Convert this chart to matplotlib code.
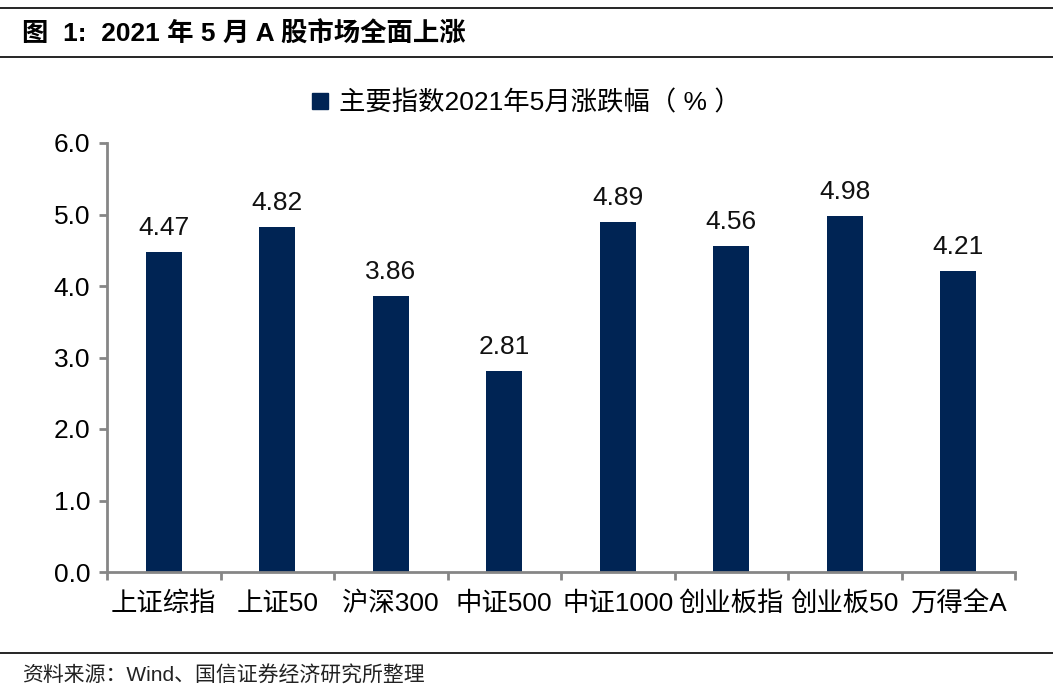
import numpy as np
import matplotlib
matplotlib.use('Agg')
import matplotlib.pyplot as plt
from matplotlib.lines import Line2D

plt.rcParams['font.family'] = ['Liberation Sans', 'Noto Sans CJK SC', 'DejaVu Sans']

categories = ['上证综指', '上证50', '沪深300', '中证500', '中证1000', '创业板指', '创业板50', '万得全A']
values = [4.47, 4.82, 3.86, 2.81, 4.89, 4.56, 4.98, 4.21]
yticks = [0.0, 1.0, 2.0, 3.0, 4.0, 5.0, 6.0]

title = '图  1:  2021 年 5 月 A 股市场全面上涨'
legend_label = '主要指数2021年5月涨跌幅（ % ）'
source = '资料来源：Wind、国信证券经济研究所整理'

bar_color = '#002454'
spine_color = '#868686'

fig = plt.figure(figsize=(10.53, 6.97), dpi=100)
ax = fig.add_axes([107/1053, 1-572/697, (1015-107)/1053, (572-143)/697])

x = np.arange(len(categories))
ax.bar(x, values, width=0.32, color=bar_color)
for xi, v in zip(x, values):
    ax.text(xi, v + 0.17, '%.2f' % v, ha='center', va='bottom', fontsize=19, color='#111111')

ax.set_xlim(-0.5, len(categories) - 0.5)
ax.set_ylim(0, 6)
ax.set_yticks(yticks)
ax.set_yticklabels(['%.1f' % t for t in yticks], fontsize=19)
ax.set_xticks(x)
ax.set_xticklabels(categories, fontsize=19)
ax.tick_params(axis='x', length=0, pad=14)
ax.set_xticks(np.arange(len(categories) + 1) - 0.5, minor=True)
ax.tick_params(axis='x', which='minor', length=6, width=2, color=spine_color, direction='out')
ax.tick_params(axis='y', length=6, width=2, color=spine_color, pad=6)
for s in ['top', 'right']:
    ax.spines[s].set_visible(False)
for s in ['left', 'bottom']:
    ax.spines[s].set_color(spine_color)
    ax.spines[s].set_linewidth(2)

handle = Line2D([], [], marker='s', linestyle='none', color=bar_color, markersize=11)
fig.legend([handle], [legend_label], loc='center', bbox_to_anchor=(524/1053, 1-103/697),
           frameon=False, fontsize=19, handletextpad=0.2, handlelength=1.0)

# header and footer
fig.add_artist(Line2D([0, 1], [1-8/697, 1-8/697], color='black', lw=1.2))
fig.add_artist(Line2D([0, 1], [1-57/697, 1-57/697], color='black', lw=1.2))
fig.add_artist(Line2D([0, 1], [1-653/697, 1-653/697], color='black', lw=1.2))
fig.text(22/1053, 1-34/697, title, fontsize=19, fontweight='bold', va='center', ha='left')
fig.text(22/1053, 1-676/697, source, fontsize=15, va='center', ha='left', color='#222222')

fig.savefig('out.png', dpi=100)
